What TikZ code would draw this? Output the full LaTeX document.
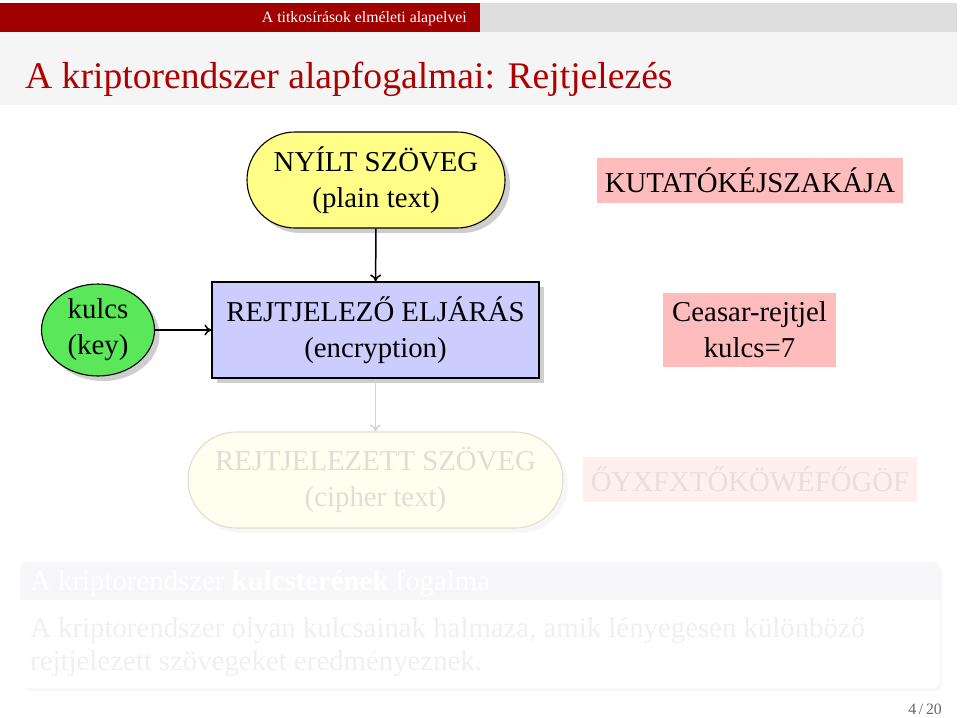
\documentclass[tikz,border=0pt]{standalone}
\usepackage{fontspec}
\setmainfont{Liberation Serif}
\usetikzlibrary{shapes.misc,shapes.geometric,shadows,arrows.meta}
\definecolor{hdrred}{RGB}{160,0,0}
\definecolor{hdrgray}{RGB}{222,222,222}
\definecolor{titleband}{RGB}{245,245,245}
\definecolor{titlered}{RGB}{175,0,0}
\definecolor{plainyel}{RGB}{255,255,136}
\definecolor{keygreen}{RGB}{90,232,90}
\definecolor{encblue}{RGB}{204,204,255}
\definecolor{notepink}{RGB}{255,188,188}
\definecolor{fadefill}{RGB}{255,255,240}
\definecolor{fadeline}{RGB}{222,222,212}
\definecolor{fadearrow}{RGB}{212,212,212}
\definecolor{fadetext}{RGB}{222,222,214}
\definecolor{fadepink}{RGB}{255,240,240}
\definecolor{fadepinktext}{RGB}{236,220,220}
\definecolor{blocktop}{RGB}{247,247,249}
\definecolor{blocktext}{RGB}{240,240,240}
\tikzset{
  x=1pt,y=-1pt,
  txt/.style={font=\fontsize{28.8}{36}\selectfont, align=center, inner sep=0pt},
  shad/.style={drop shadow={shadow xshift=5pt,shadow yshift=-5pt,fill=black!35,opacity=.55}},
  pill/.style={txt, rounded rectangle, draw=black, line width=1.1pt, fill=plainyel, shad},
  keynode/.style={txt, ellipse, draw=black, line width=1.1pt, fill=keygreen, shad},
  encbox/.style={txt, rectangle, draw=black, line width=1.1pt, fill=encblue, shad},
  notebox/.style={txt, rectangle, fill=notepink},
  fadepill/.style={txt, rounded rectangle, draw=fadeline, line width=1.1pt, fill=fadefill, text=fadetext,
     drop shadow={shadow xshift=5pt,shadow yshift=-5pt,fill=black!5,opacity=.6}},
  fadenote/.style={txt, rectangle, fill=fadepink, text=fadepinktext},
  flow/.style={line width=1.5pt, -{To[length=7pt,width=11pt]}},
}
\begin{document}
\begin{tikzpicture}
\useasboundingbox (0,0) rectangle (960,717);
% header
\fill[hdrred] (0,3) rectangle (480,32);
\fill[hdrgray] (480,3) rectangle (957,32);
\node[anchor=base east, text=white, font=\fontsize{15.8}{18}\selectfont, inner sep=0pt] (hdr) at (467,23) {A titkosírások elméleti alapelvei};
\fill[titleband] (0,32) rectangle (957,105);
\node[anchor=base west, text=titlered, font=\fontsize{37.6}{44}\selectfont, inner sep=0pt] (title) at (25,88) {A kriptorendszer alapfogalmai: Rejtjelezés};
% diagram
\node[pill, minimum width=258pt, minimum height=96pt] (plain) at (376,180) {NYÍLT SZÖVEG\\(plain text)};
\node[notebox, minimum width=306pt, minimum height=45pt] (kut) at (750,180.5) {KUTATÓKÉJSZAKÁJA};
\node[keynode, minimum width=113pt, minimum height=92pt] (key) at (98,330) {kulcs\\(key)};
\node[encbox, minimum width=327pt, minimum height=96pt] (enc) at (375.5,330) {REJTJELEZŐ ELJÁRÁS\\(encryption)};
\node[notebox, minimum width=173pt, minimum height=74pt] (ceasar) at (749.5,330) {Ceasar-rejtjel\\kulcs=7};
\node[fadepill, minimum width=375pt, minimum height=96pt] (cipher) at (375.5,480) {REJTJELEZETT SZÖVEG\\(cipher text)};
\node[fadenote, minimum width=334pt, minimum height=45pt] (ctext) at (750,479.5) {ŐYXFXTŐKÖWÉFŐGÖF};
\draw[flow] (plain) -- (enc);
\draw[flow] (key) -- (enc);
\draw[flow, draw=fadearrow] (enc) -- (cipher);
% block
\fill[black!3, rounded corners=8pt] (22,565) rectangle (942,691);
\fill[white, rounded corners=8pt] (20,562) rectangle (940,688);
\fill[blocktop, rounded corners=8pt] (20,562) -- (940,562) -- (940,600) -- (20,600) -- cycle;
\fill[blocktop] (20,585) rectangle (940,600);
\node[anchor=base west, text=white, font=\fontsize{28.8}{36}\selectfont, inner sep=0pt] (btitle) at (30,590) {A kriptorendszer \textbf{kulcsterének} fogalma};
\node[anchor=base west, text=blocktext, font=\fontsize{28.8}{33}\selectfont, inner sep=0pt] (bbody) at (30,637) {A kriptorendszer olyan kulcsainak halmaza, amik lényegesen különböző};
\node[anchor=base west, text=blocktext, font=\fontsize{28.8}{33}\selectfont, inner sep=0pt] (bbody2) at (30,670) {rejtjelezett szövegeket eredményeznek.};
% page number
\node[anchor=base east, text=black!60, font=\fontsize{15.8}{18}\selectfont, inner sep=0pt] (page) at (942,714) {4\,/\,20};
\end{tikzpicture}
\end{document}
